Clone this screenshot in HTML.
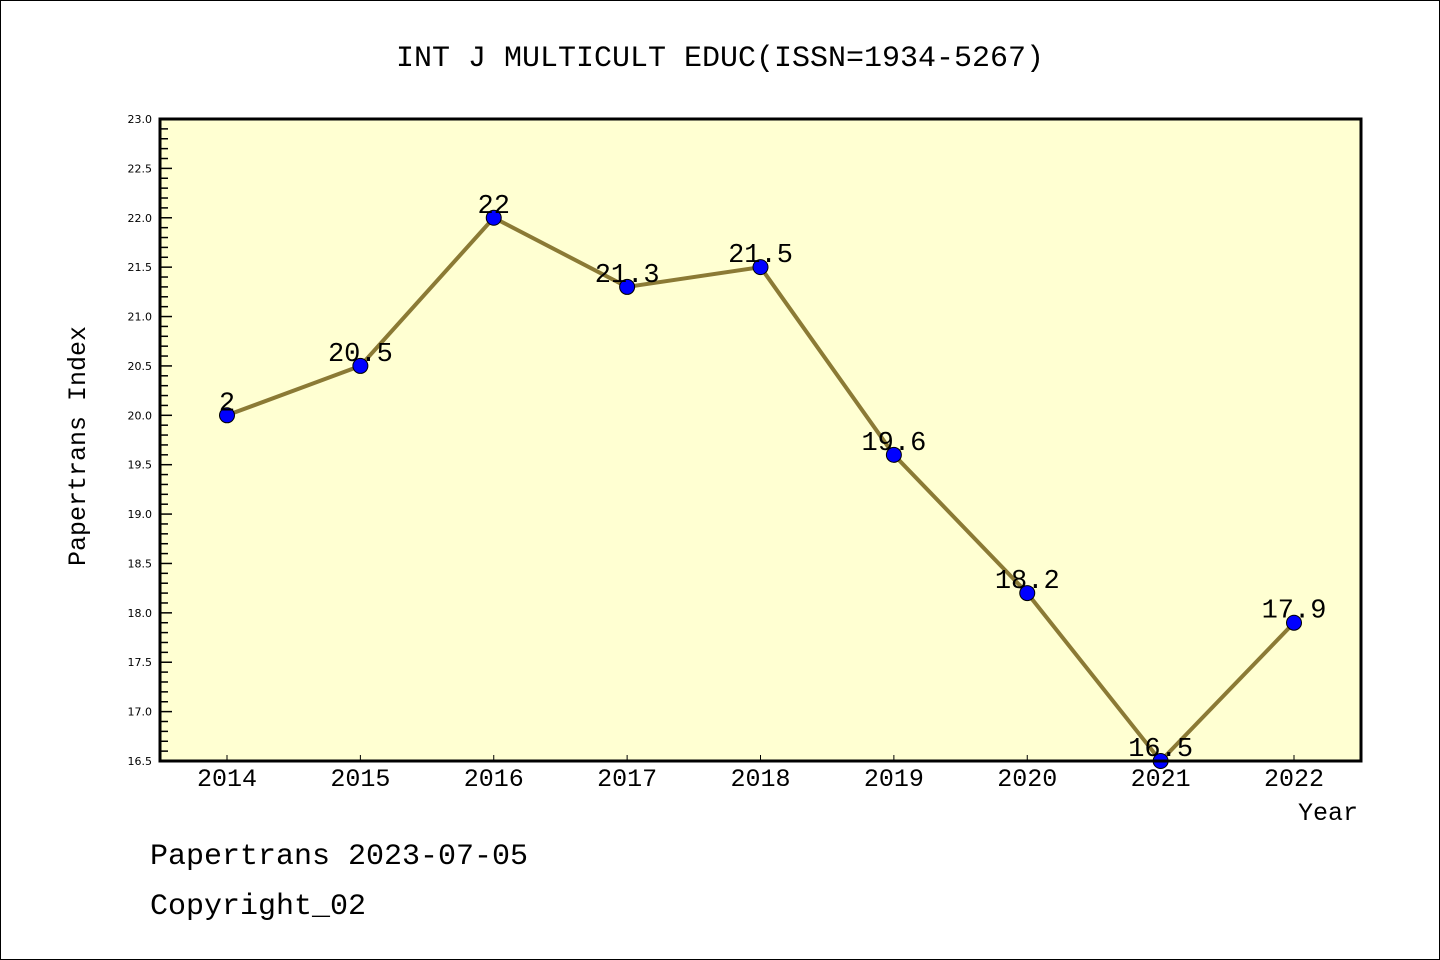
<!DOCTYPE html>
<html><head><meta charset="utf-8"><style>
body{margin:0;background:#fff}
svg{display:block;font-family:"Liberation Mono","DejaVu Sans Mono",monospace}
</style></head><body>
<svg id="chart" width="1440" height="960">
<rect x="0.5" y="0.5" width="1439" height="959" fill="#fff" stroke="#000"/>
<text x="720" y="66" text-anchor="middle" font-size="30">INT J MULTICULT EDUC(ISSN=1934-5267)</text>
<rect x="160" y="119" width="1201" height="642" fill="#ffffd2"/>
<g id="yaxis"></g>
<g id="xaxis"></g>
<g id="series"></g>
<rect x="160" y="119" width="1201" height="642" fill="none" stroke="#000" stroke-width="3"/>
<text transform="translate(85,446) rotate(-90)" text-anchor="middle" font-size="25">Papertrans Index</text>
<text x="1358" y="820" text-anchor="end" font-size="25">Year</text>
<text x="150" y="864" font-size="30">Papertrans 2023-07-05</text>
<text x="150" y="914" font-size="30">Copyright_02</text>
</svg>
<script>
const years = [2014,2015,2016,2017,2018,2019,2020,2021,2022];
const values = [20,20.5,22,21.3,21.5,19.6,18.2,16.5,17.9];
const pointLabels = ["2","20.5","22","21.3","21.5","19.6","18.2","16.5","17.9"];
const yTicks = ["16.5","17.0","17.5","18.0","18.5","19.0","19.5","20.0","20.5","21.0","21.5","22.0","22.5","23.0"];
const NS="http://www.w3.org/2000/svg";
const yMin=16.5,yMax=23,plotTop=119,plotBot=761,plotLeft=160;
function yScale(v){return plotBot-(v-yMin)/(yMax-yMin)*(plotBot-plotTop);}
function xScale(yr){return 227+(yr-2014)*133.375;}
function mk(tag,attrs,parent){const e=document.createElementNS(NS,tag);for(const k in attrs)e.setAttribute(k,attrs[k]);parent.appendChild(e);return e;}
const ya=document.getElementById('yaxis');
for(let i=0;i<=65;i++){const v=yMin+i*0.1;const major=i%5===0;
 const t=mk('line',{x1:plotLeft,x2:plotLeft+(major?12:8),y1:yScale(v),y2:yScale(v),stroke:'#000','stroke-width':1.5},ya);
 
 }
yTicks.forEach(s=>{const t=mk('text',{x:152,y:yScale(parseFloat(s))+4,'text-anchor':'end','font-size':11,'font-family':'DejaVu Sans, sans-serif'},ya);t.textContent=s;
 
 });
const xa=document.getElementById('xaxis');
years.forEach(yr=>{const l=mk('line',{x1:xScale(yr),x2:xScale(yr),y1:plotBot,y2:plotBot-6,stroke:'#000','stroke-width':1},xa);
 
 
 const t=mk('text',{x:xScale(yr),y:786,'text-anchor':'middle','font-size':25},xa);t.textContent=yr;
 
 });
const sg=document.getElementById('series');
const line=mk('polyline',{points:years.map((yr,i)=>xScale(yr)+','+yScale(values[i])).join(' '),fill:'none',stroke:'#8b7a35','stroke-width':4},sg);


years.forEach((yr,i)=>{const c=mk('circle',{cx:xScale(yr),cy:yScale(values[i]),r:7.5,fill:'#0000ff',stroke:'#000','stroke-width':1},sg);
 
 
 const t=mk('text',{x:xScale(yr),y:yScale(values[i])-5,'text-anchor':'middle','font-size':27},sg);t.textContent=pointLabels[i];
 
 });
</script>
</body></html>
